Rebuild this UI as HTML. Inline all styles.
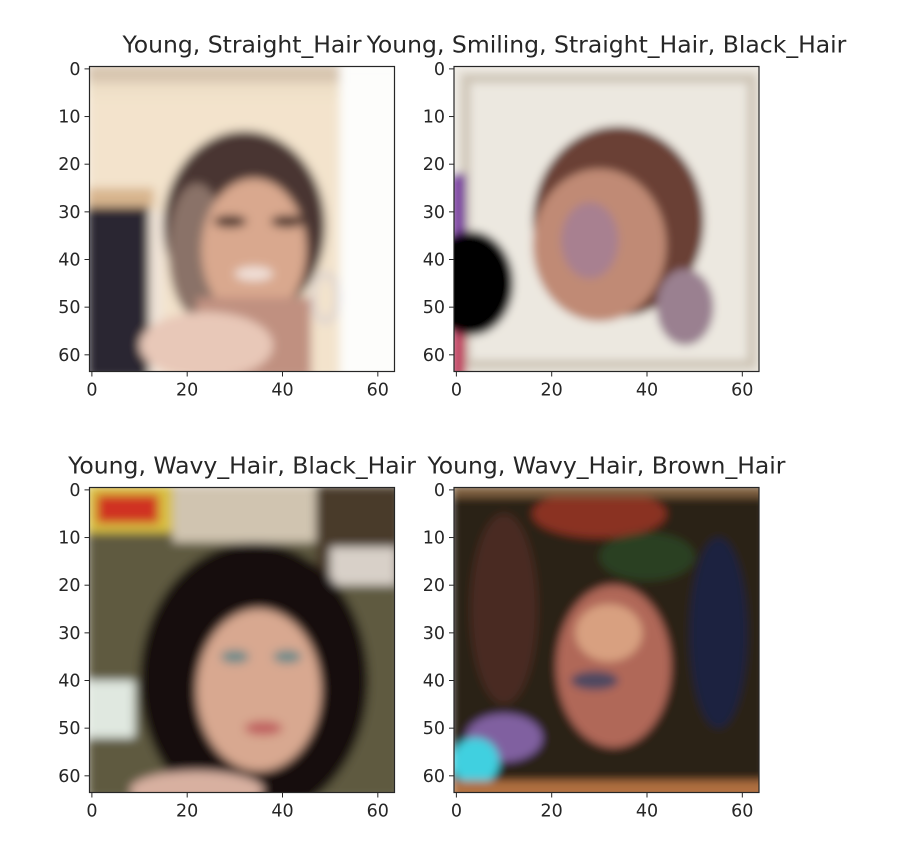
<!DOCTYPE html>
<html><head><meta charset="utf-8"><style>
html,body{margin:0;padding:0;background:#fff;}
svg{display:block;font-family:"DejaVu Sans","Liberation Sans",sans-serif;}
</style></head><body>
<svg id="fig" width="912" height="866" viewBox="0 0 912 866" xmlns="http://www.w3.org/2000/svg">
<defs>
<filter id="b1" x="-20%" y="-20%" width="140%" height="140%"><feGaussianBlur stdDeviation="0.9"/></filter>
<filter id="b2" x="-20%" y="-20%" width="140%" height="140%"><feGaussianBlur stdDeviation="1.0"/></filter>
<clipPath id="cp"><rect x="-0.5" y="-0.5" width="64" height="64"/></clipPath>
</defs>
<g id="axes-layer"></g>
</svg>
<script>
const xTicks=[0,20,40,60];
const yTicks=[0,10,20,30,40,50,60];
const titles=["Young, Straight_Hair","Young, Smiling, Straight_Hair, Black_Hair","Young, Wavy_Hair, Black_Hair","Young, Wavy_Hair, Brown_Hair"];
const extentMin=-0.5, extentMax=63.5;

const panels=[{l:89.5,t:66.5},{l:454,t:66.5},{l:89.5,t:487.5},{l:454,t:487.5}];
const SIZE=305;
const NS="http://www.w3.org/2000/svg";
const layer=document.getElementById('axes-layer');

const imgs=[
`<rect x="-1" y="-1" width="66" height="66" fill="#f3e3cc"/>
<rect x="-1" y="-1" width="66" height="4" fill="#d8c6b0"/>
<rect x="-1" y="3" width="66" height="3" fill="#efe0c8"/>
<rect x="52" y="-1" width="13" height="66" fill="#fdfdfb"/>
<rect x="-1" y="28" width="13" height="37" fill="#2a2530"/>
<rect x="-1" y="25" width="14" height="4" fill="#d8b58e"/>
<rect x="12" y="30" width="3" height="35" fill="#f0e4d8"/>
<ellipse cx="32" cy="33" rx="17" ry="20" fill="#4a3530"/>
<ellipse cx="22" cy="38" rx="6" ry="14" fill="#8a7268"/>
<ellipse cx="34" cy="38" rx="11" ry="15" fill="#d9a88e"/>
<rect x="22" y="48" width="24" height="17" fill="#c09080"/>
<ellipse cx="24" cy="58" rx="14" ry="7" fill="#e8c8b8"/>
<ellipse cx="29" cy="32" rx="3.5" ry="1.3" fill="#4a302a"/>
<ellipse cx="41" cy="32" rx="3.5" ry="1.3" fill="#4a302a"/>
<ellipse cx="34" cy="43" rx="4" ry="1.5" fill="#f0e0d8"/>
<ellipse cx="49" cy="48" rx="2.5" ry="5" fill="none" stroke="#d8d0d0" stroke-width="1"/>`,
`<rect x="-1" y="-1" width="66" height="66" fill="#ece8e0"/>
<rect x="2" y="2" width="60" height="60" fill="none" stroke="#cfc6b8" stroke-width="2"/>
<ellipse cx="34" cy="32" rx="18" ry="20" fill="#6a4034"/>
<ellipse cx="30" cy="37" rx="14" ry="16" fill="#c08a74"/>
<ellipse cx="28" cy="36" rx="6" ry="8" fill="#a88090"/>
<ellipse cx="48" cy="50" rx="6" ry="8" fill="#9a8090"/>
<rect x="-1" y="22" width="3" height="30" fill="#7a40a0"/>
<rect x="-1" y="55" width="3" height="10" fill="#c04060"/>
<ellipse cx="3" cy="45" rx="9" ry="11" fill="#000"/>`,
`<rect x="-1" y="-1" width="66" height="66" fill="#5e5a40"/>
<rect x="-1" y="-1" width="18" height="10" fill="#d8c040"/>
<rect x="1" y="1" width="13" height="6" fill="#d03020"/>
<rect x="17" y="-1" width="30" height="12" fill="#d0c4b0"/>
<rect x="47" y="-1" width="18" height="20" fill="#4a3a2a"/>
<rect x="50" y="12" width="14" height="8" fill="#d8d0c8"/>
<ellipse cx="34" cy="40" rx="24" ry="29" fill="#141010"/>
<ellipse cx="35" cy="42" rx="13" ry="17" fill="#d8a890"/>
<ellipse cx="30" cy="35" rx="3" ry="1.4" fill="#6a8a8a"/>
<ellipse cx="41" cy="35" rx="3" ry="1.4" fill="#6a8a8a"/>
<ellipse cx="36" cy="50" rx="4" ry="1.5" fill="#c06060"/>
<rect x="-1" y="40" width="10" height="12" fill="#e0e8e0"/>
<ellipse cx="22" cy="63" rx="14" ry="4" fill="#d8b0a0"/>`,
`<rect x="-1" y="-1" width="66" height="66" fill="#2a2218"/>
<ellipse cx="30" cy="5" rx="14" ry="5" fill="#8a3020"/>
<ellipse cx="10" cy="25" rx="7" ry="20" fill="#4a2a20"/>
<ellipse cx="55" cy="30" rx="6" ry="20" fill="#1e2040"/>
<ellipse cx="40" cy="14" rx="10" ry="5" fill="#2a4020"/>
<ellipse cx="33" cy="37" rx="12" ry="17" fill="#b06858"/>
<ellipse cx="32" cy="30" rx="7" ry="6" fill="#d8a080"/>
<ellipse cx="29" cy="40" rx="5" ry="2" fill="#504860"/>
<ellipse cx="10" cy="52" rx="8" ry="5" fill="#8060a0"/>
<ellipse cx="4" cy="57" rx="5" ry="5" fill="#40d0e0"/>
<rect x="-1" y="61" width="66" height="4" fill="#b07040"/>
<rect x="-1" y="-1" width="66" height="2.5" fill="#806040"/>`
];

function addText(parent,x,y,txt,size,anchor,name){
  const t=document.createElementNS(NS,'text');
  t.setAttribute('x',x);t.setAttribute('y',y);
  t.setAttribute('font-size',size);t.setAttribute('fill','#262626');
  t.setAttribute('text-anchor',anchor);
  t.textContent=txt;
  
  
  parent.appendChild(t);return t;
}

panels.forEach((p,i)=>{
  const g=document.createElementNS(NS,'g');
  
  
  layer.appendChild(g);
  const sc=SIZE/(extentMax-extentMin);
  const X=v=>p.l+(v-extentMin)*sc;
  const Y=v=>p.t+(v-extentMin)*sc;
  const im=document.createElementNS(NS,'g');
  im.setAttribute('transform',`translate(${X(0)},${Y(0)}) scale(${sc})`);
  
  
  const inner=document.createElementNS(NS,'g');
  inner.setAttribute('clip-path','url(#cp)');
  const blurred=document.createElementNS(NS,'g');
  blurred.setAttribute('filter',i%2? 'url(#b1)':'url(#b2)');
  blurred.innerHTML=imgs[i];
  inner.appendChild(blurred);im.appendChild(inner);g.appendChild(im);
  const fr=document.createElementNS(NS,'rect');
  fr.setAttribute('x',p.l);fr.setAttribute('y',p.t);fr.setAttribute('width',SIZE);fr.setAttribute('height',SIZE);
  fr.setAttribute('fill','none');fr.setAttribute('stroke','#262626');fr.setAttribute('stroke-width','1.2');
  
  
  g.appendChild(fr);
  xTicks.forEach(v=>{
    const l=document.createElementNS(NS,'line');
    l.setAttribute('x1',X(v));l.setAttribute('x2',X(v));l.setAttribute('y1',p.t+SIZE);l.setAttribute('y2',p.t+SIZE+5);
    l.setAttribute('stroke','#262626');l.setAttribute('stroke-width','1');
    
    
    g.appendChild(l);
    addText(g,X(v),p.t+SIZE+24,String(v),17.5,'middle','x-tick-label');
  });
  yTicks.forEach(v=>{
    const l=document.createElementNS(NS,'line');
    l.setAttribute('x1',p.l-5);l.setAttribute('x2',p.l);l.setAttribute('y1',Y(v));l.setAttribute('y2',Y(v));
    l.setAttribute('stroke','#262626');l.setAttribute('stroke-width','1');
    
    
    g.appendChild(l);
    addText(g,p.l-9,Y(v)+6,String(v),17.5,'end','y-tick-label');
  });
  addText(g,p.l+SIZE/2,p.t-14,titles[i],23.5,'middle','subplot-title');
});
</script>
</body></html>
